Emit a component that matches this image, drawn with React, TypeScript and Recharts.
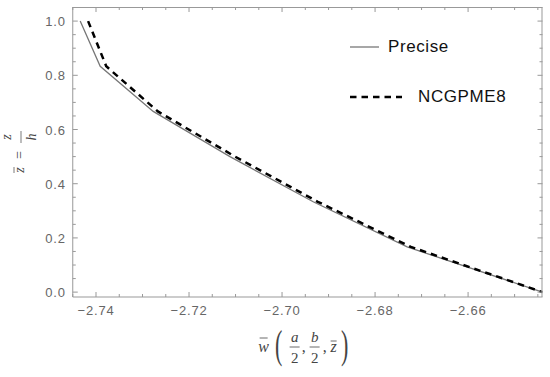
import { Line, LineChart, XAxis, YAxis } from "recharts"

// z values (vertical axis) shared by both curves
const zValues = [1.0, 0.8333, 0.6667, 0.5, 0.3333, 0.1667, 0.0]
// w values
const preciseW = [-2.7434, -2.7391, -2.7277, -2.7112, -2.6933, -2.6731, -2.644]
const ncgpmeW = [-2.7417, -2.7378, -2.7267, -2.7101, -2.6923, -2.6723, -2.644]

const xMajor = [-2.74, -2.72, -2.7, -2.68, -2.66]
const xTicks = [
  -2.745, -2.74, -2.735, -2.73, -2.725, -2.72, -2.715, -2.71, -2.705, -2.7,
  -2.695, -2.69, -2.685, -2.68, -2.675, -2.67, -2.665, -2.66, -2.655, -2.65,
  -2.645,
]
const yMajor = [0, 0.2, 0.4, 0.6, 0.8, 1.0]
const yTicks = [
  0, 0.05, 0.1, 0.15, 0.2, 0.25, 0.3, 0.35, 0.4, 0.45, 0.5, 0.55, 0.6, 0.65,
  0.7, 0.75, 0.8, 0.85, 0.9, 0.95, 1.0,
]

const X_DOMAIN: [number, number] = [-2.745, -2.644]
const Y_DOMAIN: [number, number] = [-0.018, 1.052]

const W = 550
const H = 377
const M_TOP = 7
const M_RIGHT = 7.5
const Y_AXIS_W = 72.75
const X_AXIS_H = 80

const precise = zValues.map((z, i) => ({ w: preciseW[i], z }))
const ncgpme = zValues.map((z, i) => ({ w: ncgpmeW[i], z }))

const FRAME = "#999"
const TICK_TEXT = "#666"
const isMajor = (v: number, list: number[]) =>
  list.some((m) => Math.abs(m - v) < 1e-6)

const tickFont = {
  fontFamily: "Liberation Sans, Arial, sans-serif",
  fontSize: 13,
  letterSpacing: 0.8,
}

const BottomTick = (props: any) => {
  const { x, y, payload } = props
  const major = isMajor(payload.value, xMajor)
  return (
    <g>
      <line x1={x} x2={x} y1={y} y2={y - (major ? 5 : 3)} stroke={FRAME} />
      {major && (
        <text x={x} y={y + 18} textAnchor="middle" fill={TICK_TEXT} {...tickFont}>
          {payload.value.toFixed(2).replace("-", "\u2212")}
        </text>
      )}
    </g>
  )
}

const LeftTick = (props: any) => {
  const { x, y, payload } = props
  const major = isMajor(payload.value, yMajor)
  return (
    <g>
      <line x1={x} x2={x + (major ? 5 : 3)} y1={y} y2={y} stroke={FRAME} />
      {major && (
        <text x={x - 7} y={y + 5} textAnchor="end" fill={TICK_TEXT} {...tickFont}>
          {payload.value.toFixed(1)}
        </text>
      )}
    </g>
  )
}

const mathFont = {
  fontFamily: "Liberation Serif, Times New Roman, serif",
  fill: "#444",
}

const Paren = ({ x, y, ch }: { x: number; y: number; ch: string }) => (
  <text
    transform={`translate(${x},${y}) scale(0.55,1)`}
    textAnchor="middle"
    fontSize={40}
    {...mathFont}
  >
    {ch}
  </text>
)

const XLabel = (props: any) => {
  const vb = props.viewBox
  const cx = vb.x + vb.width / 2 - 2
  const y0 = vb.y - 3
  const frac = (dx: number, num: string) => (
    <g>
      <text x={cx + dx} y={y0 + 48} textAnchor="middle" fontStyle="italic" fontSize={15} {...mathFont}>
        {num}
      </text>
      <line x1={cx + dx - 5} x2={cx + dx + 5} y1={y0 + 53} y2={y0 + 53} stroke="#444" strokeWidth={0.8} />
      <text x={cx + dx} y={y0 + 69} textAnchor="middle" fontSize={15} {...mathFont}>
        2
      </text>
    </g>
  )
  return (
    <g>
      <text x={cx - 42} y={y0 + 58} textAnchor="middle" fontStyle="italic" fontSize={16} {...mathFont}>
        w
      </text>
      <line x1={cx - 46} x2={cx - 38} y1={y0 + 44} y2={y0 + 44} stroke="#444" strokeWidth={0.8} />
      <Paren x={cx - 27} y={y0 + 64} ch="(" />
      {frac(-11, "a")}
      <text x={cx - 2} y={y0 + 58} textAnchor="middle" fontSize={16} {...mathFont}>
        ,
      </text>
      {frac(9, "b")}
      <text x={cx + 19} y={y0 + 58} textAnchor="middle" fontSize={16} {...mathFont}>
        ,
      </text>
      <text x={cx + 28} y={y0 + 58} textAnchor="middle" fontStyle="italic" fontSize={16} {...mathFont}>
        z
      </text>
      <line x1={cx + 25} x2={cx + 31} y1={y0 + 47} y2={y0 + 47} stroke="#444" strokeWidth={0.8} />
      <Paren x={cx + 39} y={y0 + 64} ch=")" />
    </g>
  )
}

const YLabel = (props: any) => {
  const vb = props.viewBox
  const cx = 20
  const cy = vb.y + vb.height / 2
  return (
    <g transform={`translate(${cx},${cy}) rotate(-90)`}>
      <text x={-18} y={4} textAnchor="middle" fontStyle="italic" fontSize={14} {...mathFont}>
        z
      </text>
      <line x1={-21} x2={-15} y1={-6} y2={-6} stroke="#444" strokeWidth={0.7} />
      <text x={-3} y={4} textAnchor="middle" fontSize={14} {...mathFont}>
        =
      </text>
      <text x={15} y={-9} textAnchor="middle" fontStyle="italic" fontSize={14} {...mathFont}>
        z
      </text>
      <line x1={9} x2={21} y1={1} y2={1} stroke="#444" strokeWidth={0.7} />
      <text x={15} y={16} textAnchor="middle" fontStyle="italic" fontSize={14} {...mathFont}>
        h
      </text>
    </g>
  )
}

// top and right sides of the frame, ticks pointing inward (overlay)
const FrameTopRight = () => {
  const left = Y_AXIS_W
  const right = W - M_RIGHT
  const top = M_TOP
  const bottom = H - X_AXIS_H
  const sx = (v: number) =>
    left + ((v - X_DOMAIN[0]) / (X_DOMAIN[1] - X_DOMAIN[0])) * (right - left)
  const sy = (v: number) =>
    bottom - ((v - Y_DOMAIN[0]) / (Y_DOMAIN[1] - Y_DOMAIN[0])) * (bottom - top)
  return (
    <svg
      width={W}
      height={H}
      style={{ position: "absolute", left: 0, top: 0, pointerEvents: "none" }}
    >
      <line x1={left} x2={right} y1={top + 0.5} y2={top + 0.5} stroke={FRAME} />
      <line x1={right - 0.5} x2={right - 0.5} y1={top} y2={bottom} stroke={FRAME} />
      {xTicks.map((v) => (
        <line
          key={`tx${v}`}
          x1={sx(v)}
          x2={sx(v)}
          y1={top}
          y2={top + (isMajor(v, xMajor) ? 5 : 3)}
          stroke={FRAME}
        />
      ))}
      {yTicks.map((v) => (
        <line
          key={`ty${v}`}
          x1={right}
          x2={right - (isMajor(v, yMajor) ? 5 : 3)}
          y1={sy(v)}
          y2={sy(v)}
          stroke={FRAME}
        />
      ))}
    </svg>
  )
}

const LegendBox = () => (
  <div
    style={{
      position: "absolute",
      left: 348,
      top: 35,
      fontFamily: "Liberation Sans, Arial, sans-serif",
      fontSize: 17,
      letterSpacing: 0.6,
      color: "#111",
    }}
  >
    <div style={{ display: "flex", alignItems: "center", height: 24 }}>
      <svg width={40} height={10}>
        <line x1={2} x2={31} y1={5} y2={5} stroke="#777" strokeWidth={1.3} />
      </svg>
      <span>Precise</span>
    </div>
    <div style={{ display: "flex", alignItems: "center", height: 24, marginTop: 26 }}>
      <svg width={70} height={10}>
        <line x1={2} x2={54} y1={5} y2={5} stroke="#000" strokeWidth={2.5} strokeDasharray="6.5 5" />
      </svg>
      <span>NCGPME8</span>
    </div>
  </div>
)

export default function App() {
  return (
    <div style={{ position: "absolute", left: 0, top: 0, width: W, height: H, background: "#fff" }}>
      <LineChart
        width={W}
        height={H}
        margin={{ top: M_TOP, right: M_RIGHT, bottom: 0, left: 0 }}
      >
        <XAxis
          type="number"
          dataKey="w"
          domain={X_DOMAIN}
          ticks={xTicks}
          interval={0}
          allowDataOverflow
          height={X_AXIS_H}
          tickSize={0}
          tickMargin={0}
          tickLine={false}
          axisLine={{ stroke: FRAME }}
          tick={<BottomTick />}
          label={<XLabel />}
        />
        <YAxis
          type="number"
          dataKey="z"
          domain={Y_DOMAIN}
          ticks={yTicks}
          interval={0}
          allowDataOverflow
          width={Y_AXIS_W}
          tickSize={0}
          tickMargin={0}
          tickLine={false}
          axisLine={{ stroke: FRAME }}
          tick={<LeftTick />}
          label={<YLabel />}
        />
        <Line
          data={precise}
          dataKey="z"
          type="linear"
          stroke="#777"
          strokeWidth={1.3}
          dot={false}
          isAnimationActive={false}
        />
        <Line
          data={ncgpme}
          dataKey="z"
          type="linear"
          stroke="#000"
          strokeWidth={2.5}
          strokeDasharray="6.5 5"
          dot={false}
          isAnimationActive={false}
        />
      </LineChart>
      <FrameTopRight />
      <LegendBox />
    </div>
  )
}
